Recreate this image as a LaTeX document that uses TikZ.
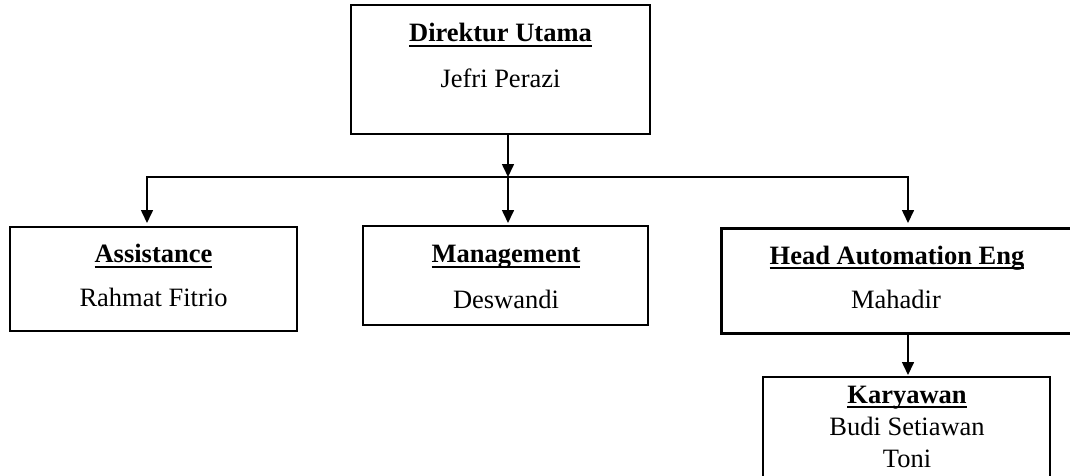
\documentclass[tikz,border=0pt]{standalone}
\usepackage{fontspec}
\setmainfont{Liberation Serif}
\usetikzlibrary{arrows.meta}
\newcommand\myul[1]{\setbox0\hbox{#1}\rlap{\rule[-5pt]{\wd0}{2.2pt}}\box0}
\begin{document}
\begin{tikzpicture}[x=1pt,y=-1pt,
  box/.style={draw,rectangle,inner sep=0pt,outer sep=0pt,line width=#1},
  box/.default=1.6pt,
  txt/.style={anchor=base,inner sep=0pt,font={\fontsize{26.5}{30}\selectfont}},
  ttl/.style={anchor=base,inner sep=0pt,font={\fontsize{26.5}{30}\selectfont\bfseries}},
  arr/.style={-{Triangle[length=13pt,width=12pt]},line width=1.6pt,line join=miter}]
\useasboundingbox (0,0) rectangle (1070,475);
\clip (0,0) rectangle (1070,475);
% boxes
\node[box] (dir) at (500.5,69.5) [minimum width=299pt,minimum height=129pt] {};
\node[box=1.8pt] (asst) at (153.5,279) [minimum width=287pt,minimum height=104pt] {};
\node[box=2.8pt] (mgmt) at (505.5,275.5) [minimum width=285pt,minimum height=99pt] {};
\node[box=3pt] (head) at (897,280.5) [minimum width=352pt,minimum height=105pt] {};
\node[box=2pt] (kary) at (906.5,436) [minimum width=287pt,minimum height=118pt] {};
% texts
\node[ttl] (dirT) at (500.5,41.7) {\myul{Direktur Utama}};
\node[txt] (dirN) at (500.5,87) {Jefri Perazi};
\node[ttl] (asstT) at (153.5,262.7) {\myul{Assistance}};
\node[txt] (asstN) at (153.5,306.7) {Rahmat Fitrio};
\node[ttl] (mgmtT) at (506,262.7) {\myul{Management}};
\node[txt] (mgmtN) at (506,308) {Deswandi};
\node[ttl] (headT) at (897,264) {\myul{Head Automation Eng}};
\node[txt] (headN) at (896,308) {Mahadir};
\node[ttl] (karyT) at (907,403) {\myul{Karyawan}};
\node[txt] (karyN1) at (907,435) {Budi Setiawan};
\node[txt] (karyN2) at (907,467) {Toni};
% connectors
\coordinate (hub) at (508,177);
\coordinate (hl) at (147,177);
\coordinate (hr) at (908,177);
\draw[arr] (dir.south -| hub) -- (hub);
\draw[arr,shorten >=4pt] (hub) -- (hl) -- (hl |- asst.north);
\draw[arr,shorten >=5pt] (hub) -- (hr) -- (hr |- head.north);
\draw[arr,shorten >=3pt] (hub) -- (hub |- mgmt.north);
\draw[arr,shorten >=2pt] (head.south -| hr) -- (hr |- kary.north);
\end{tikzpicture}
\end{document}
